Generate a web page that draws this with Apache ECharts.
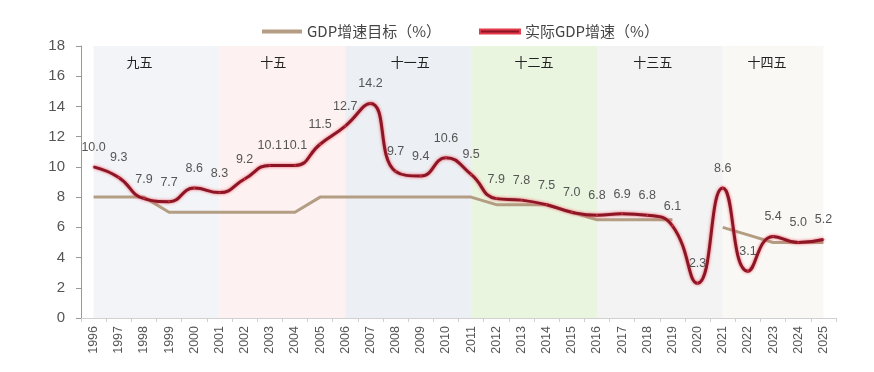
<!DOCTYPE html>
<html><head><meta charset="utf-8">
<script src="https://cdn.jsdelivr.net/npm/echarts@6/dist/echarts.min.js"></script>
<style>html,body{margin:0;padding:0;background:#fff}#c{width:874px;height:372px}</style>
</head><body><div id="c"></div>
<script>
const years = ['1996','1997','1998','1999','2000','2001','2002','2003','2004','2005','2006','2007','2008','2009','2010','2011','2012','2013','2014','2015','2016','2017','2018','2019','2020','2021','2022','2023','2024','2025'];
const targetGrowth = [8,8,8,7,7,7,7,7,7,8,8,8,8,8,8,8,7.5,7.5,7.5,7,6.5,6.5,6.5,6.5,null,6,5.5,5,5,5];
const actualGrowth = [10.0,9.3,7.9,7.7,8.6,8.3,9.2,10.1,10.1,11.5,12.7,14.2,9.7,9.4,10.6,9.5,7.9,7.8,7.5,7.0,6.8,6.9,6.8,6.1,2.3,8.6,3.1,5.4,5.0,5.2];
const planNames = ['九五','十五','十一五','十二五','十三五','十四五'];
const planStart = ['1996','2001','2006','2011','2016','2021'];
const planEnd = ['2001','2006','2011','2016','2021','2025'];
const yTicks = [0,2,4,6,8,10,12,14,16,18];

const bandColors = ['#f2f4f8','#fdf1f1','#eceff3','#eaf5df','#f3f3f3','#faf8f5'];
const bandOffsets = [-17,-9,2,0,-7,-6];

const chart = echarts.init(document.getElementById('c'));
chart.setOption({
  animation:false,
  backgroundColor:'#fff',
  legend:{
    top:19, left:257, itemGap:38, itemWidth:40, itemHeight:4,
    textStyle:{fontFamily:'Noto Sans CJK SC', fontSize:15, color:'#444'},
    data:[{name:'GDP增速目标（%）', icon:'rect'},{name:'实际GDP增速（%）', icon:'rect'}]
  },
  grid:{left:81, right:38, top:46, bottom:54},
  xAxis:{
    type:'category', data:years, boundaryGap:true,
    axisLine:{lineStyle:{color:'#d0d0d0'}},
    axisTick:{show:true, lineStyle:{color:'#d0d0d0'}, length:4},
    axisLabel:{rotate:90, fontSize:12.5, color:'#555', fontFamily:'Liberation Sans', margin:8, interval:0}
  },
  yAxis:{
    type:'value', min:yTicks[0], max:yTicks[yTicks.length-1], interval:2,
    splitLine:{show:false},
    axisLine:{show:true, lineStyle:{color:'#999'}},
    axisTick:{show:true, length:5, lineStyle:{color:'#999'}},
    axisLabel:{fontSize:15, color:'#555', fontFamily:'Liberation Sans', margin:16}
  },
  series:[
    {
      name:'GDP增速目标（%）', type:'line', data:targetGrowth, symbol:'none',
      connectNulls:false, z:2,
      itemStyle:{color:'#b39d83'},
      lineStyle:{color:'#b39d83', width:3},
      markArea:{
        silent:true,
        data: planNames.map((n,i)=>[
          {name:n, xAxis:planStart[i], yAxis:yTicks[yTicks.length-1],
           itemStyle:{color:bandColors[i]},
           label:{offset:[bandOffsets[i],0]}},
          {xAxis:planEnd[i], yAxis:0}
        ]),
        label:{show:true, position:'insideTop', distance:10, color:'#222', fontSize:13, fontFamily:'Noto Sans CJK SC'}
      }
    },
    {
      name:'实际GDP增速（%）', type:'line', data:actualGrowth, symbol:'circle', symbolSize:1, showSymbol:true, smooth:0.5, z:3,
      itemStyle:{color:'#8c1526', borderColor:'#e23a48', borderWidth:1},
      lineStyle:{color:'#8c1526', width:3, shadowColor:'rgba(235,70,80,0.9)', shadowBlur:3},
      labelLayout:{hideOverlap:false},
      label:{show:true, position:'top', distance:12, color:'#555', fontSize:12.5, fontFamily:'Liberation Sans',
        formatter:p=>p.value.toFixed(1)}
    }
  ]
});
</script></body></html>
